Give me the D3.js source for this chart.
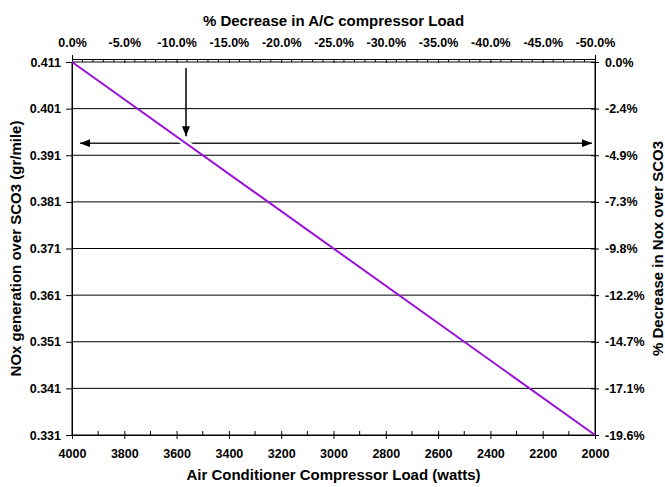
<!doctype html>
<html>
<head>
<meta charset="utf-8">
<style>
    body { margin: 0; background: #fff; }
    text { font-family: "Liberation Sans", Arial, sans-serif; font-weight: bold; fill: #000; }
</style>
</head>
<body>
<div class="chart"></div>
<script src="https://d3js.org/d3.v7.min.js"></script>
<script>

    // data
    let loadWatts = [4000, 2000];
    let noxValues = [0.411, 0.331];

    let bottomTicks = [4000, 3800, 3600, 3400, 3200, 3000, 2800, 2600, 2400, 2200, 2000];
    let leftTicks = [0.411, 0.401, 0.391, 0.381, 0.371, 0.361, 0.351, 0.341, 0.331];
    let topTicks = [0, -5, -10, -15, -20, -25, -30, -35, -40, -45, -50];
    let topTickLabels = ['0.0%', '-5.0%', '-10.0%', '-15.0%', '-20.0%', '-25.0%', '-30.0%', '-35.0%', '-40.0%', '-45.0%', '-50.0%'];
    let rightTicks = [0, -2.45, -4.9, -7.35, -9.8, -12.25, -14.7, -17.15, -19.6];
    let rightTickLabels = ['0.0%', '-2.4%', '-4.9%', '-7.3%', '-9.8%', '-12.2%', '-14.7%', '-17.1%', '-19.6%'];

    // annotation: where the arrows point
    let markerLoad = 3564;
    let markerNox = 0.3936;

    let width = 665;
    let height = 487;
    let margin = {top: 62, right: 70, bottom: 52, left: 72};
    let chartWidth = width - margin.left - margin.right;
    let chartHeight = height - margin.top - margin.bottom;

    let svg = d3.select('.chart').append('svg')
        .attr('width', width)
        .attr('height', height);

    let defs = svg.append('defs');
    defs.append('marker')
        .attr('id', 'head')
        .attr('viewBox', '0 0 10 8')
        .attr('refX', 10).attr('refY', 4)
        .attr('markerWidth', 10).attr('markerHeight', 8)
        .attr('markerUnits', 'userSpaceOnUse')
        .attr('orient', 'auto-start-reverse')
        .append('path')
        .attr('d', 'M0,0L10,4L0,8Z')
        .attr('fill', '#000');

    let g = svg.append('g')
        .attr('transform', `translate(${margin.left},${margin.top})`);

    let x = d3.scaleLinear().domain([4000, 2000]).range([0, chartWidth]);
    let y = d3.scaleLinear().domain([0.331, 0.411]).range([chartHeight, 0]);
    let xTop = d3.scaleLinear().domain([0, -50]).range([0, chartWidth]);
    let yRight = d3.scaleLinear().domain([-19.6, 0]).range([chartHeight, 0]);

    // arrows
    g.append('line')
        .attr('x1', x(markerLoad)).attr('x2', x(markerLoad))
        .attr('y1', 6).attr('y2', y(markerNox) - 7)
        .attr('stroke', '#000').attr('stroke-width', 1.5)
        .attr('marker-end', 'url(#head)');

    g.append('line')
        .attr('x1', 8).attr('x2', chartWidth - 3)
        .attr('y1', y(markerNox)).attr('y2', y(markerNox))
        .attr('stroke', '#222').attr('stroke-width', 1.5)
        .attr('marker-start', 'url(#head)')
        .attr('marker-end', 'url(#head)');

    let line = d3.line()
        .x((d, i) => x(loadWatts[i]))
        .y(d => y(d));

    // white halo so the arrow breaks where the line crosses it
    g.append('path')
        .datum(noxValues)
        .attr('d', line)
        .attr('fill', 'none')
        .attr('stroke', '#fff')
        .attr('stroke-width', 7);

    // gridlines
    g.append('g').selectAll('line')
        .data(leftTicks)
        .join('line')
        .attr('x1', 0).attr('x2', chartWidth)
        .attr('y1', d => y(d)).attr('y2', d => y(d))
        .attr('stroke', '#000').attr('stroke-width', 1);

    // plot frame sides
    g.append('line').attr('x1', 0).attr('x2', 0).attr('y1', 0).attr('y2', chartHeight)
        .attr('stroke', '#000');
    g.append('line').attr('x1', chartWidth).attr('x2', chartWidth).attr('y1', 0).attr('y2', chartHeight)
        .attr('stroke', '#000');

    // bottom axis
    let bottomAxis = d3.axisBottom(x).tickValues(bottomTicks).tickSize(4).tickPadding(10).tickFormat(d3.format('d'));
    let ba = g.append('g').attr('transform', `translate(0,${chartHeight})`).call(bottomAxis);
    ba.selectAll('.tick line').attr('y1', -4);
    ba.append('g').selectAll('line')
        .data(d3.range(3900, 2000, -200))
        .join('line')
        .attr('x1', d => x(d)).attr('x2', d => x(d))
        .attr('y1', -4).attr('y2', 0)
        .attr('stroke', '#000');

    // left axis
    let leftAxis = d3.axisLeft(y).tickValues(leftTicks).tickSize(6).tickPadding(5).tickFormat(d3.format('.3f'));
    g.append('g').call(leftAxis);

    // right axis
    let rightAxis = d3.axisRight(yRight).tickValues(rightTicks).tickSize(4).tickPadding(6)
        .tickFormat((d, i) => rightTickLabels[i]);
    let ra = g.append('g').attr('transform', `translate(${chartWidth},0)`).call(rightAxis);
    ra.selectAll('.tick line').attr('x1', -4);

    // top axis (sits a few pixels above the plot)
    let topAxis = d3.axisTop(xTop).tickValues(topTicks).tickSize(4).tickPadding(8)
        .tickFormat((d, i) => topTickLabels[i]);
    let ta = g.append('g').attr('transform', 'translate(0,-3)').call(topAxis);
    ta.selectAll('.tick line').attr('y2', 4);
    ta.append('g').selectAll('line')
        .data(d3.range(-1, -50, -1).filter(d => d % 5 !== 0))
        .join('line')
        .attr('x1', d => xTop(d)).attr('x2', d => xTop(d))
        .attr('y1', 0).attr('y2', 3)
        .attr('stroke', '#000');

    svg.selectAll('.domain').attr('stroke', '#000');
    svg.selectAll('.tick text')
        .attr('font-size', '12.5px')
        .attr('font-family', '"Liberation Sans", Arial, sans-serif')
        .attr('font-weight', 'bold');

    // the data line
    g.append('path')
        .datum(noxValues)
        .attr('d', line)
        .attr('fill', 'none')
        .attr('stroke', '#9a10d8')
        .attr('stroke-width', 2);

    // titles
    svg.append('text')
        .attr('x', margin.left + chartWidth / 2).attr('y', 26)
        .attr('text-anchor', 'middle').attr('font-size', '15px')
        .text('% Decrease in A/C compressor Load');

    svg.append('text')
        .attr('x', margin.left + chartWidth / 2).attr('y', 480)
        .attr('text-anchor', 'middle').attr('font-size', '15px')
        .text('Air Conditioner Compressor Load (watts)');

    svg.append('text')
        .attr('transform', `translate(21,${margin.top + chartHeight / 2}) rotate(-90)`)
        .attr('text-anchor', 'middle').attr('font-size', '15px')
        .text('NOx generation over SCO3 (gr/mile)');

    svg.append('text')
        .attr('transform', `translate(663,${margin.top + chartHeight / 2}) rotate(-90)`)
        .attr('text-anchor', 'middle').attr('font-size', '15px')
        .text('% Decrease in Nox over SCO3');

</script>
</body>
</html>
